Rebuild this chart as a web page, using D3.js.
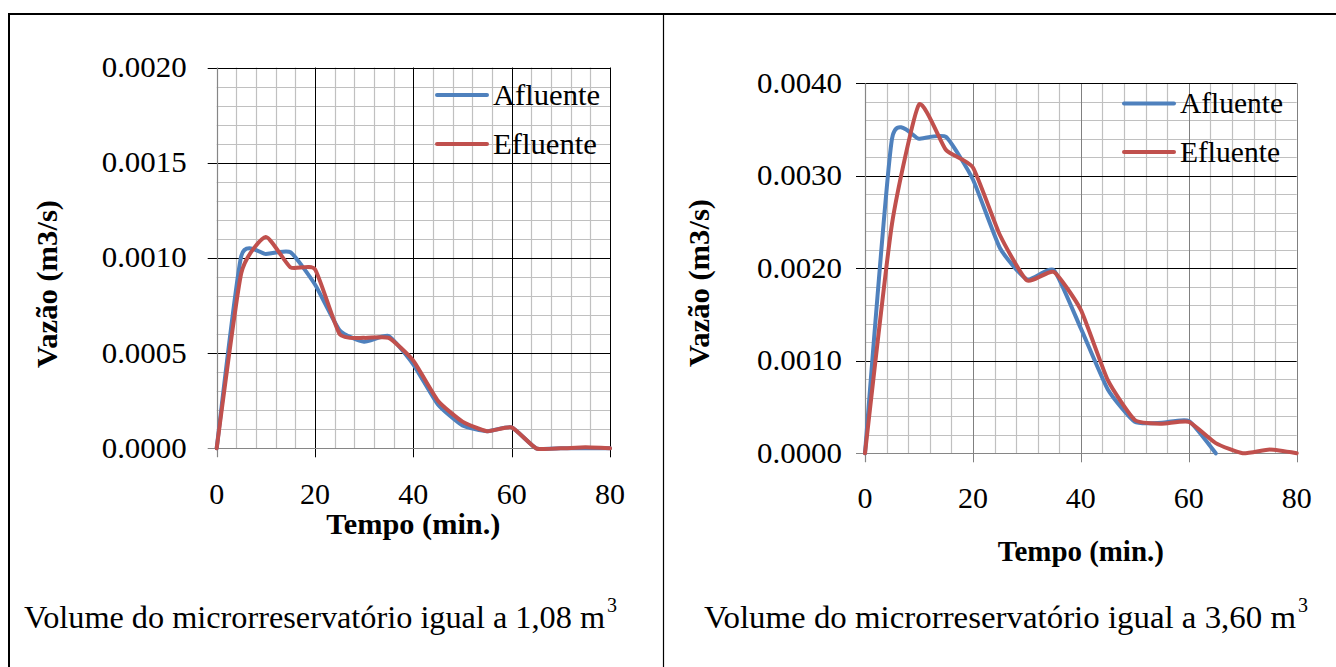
<!DOCTYPE html>
<html lang="pt">
<head>
  <meta charset="UTF-8">
  <title>Vazão afluente e efluente</title>
  <style>
    html, body { margin: 0; padding: 0; width: 100%; height: 100%; overflow: hidden; background: #fff; }
    svg { display: block; }
  </style>
</head>
<body>
  <svg id="chart" width="1336" height="667"></svg>

  <script src="https://d3js.org/d3.v7.min.js"></script>
  <script>
    // --- dados ---
    const minutos = [0, 5, 10, 15, 20, 25, 30, 35, 40, 45, 50, 55, 60, 65, 70, 75, 80];

    // volume 1,08 m3
    const afluente1 = [0, 0.00101, 0.00102, 0.00103, 0.00086, 0.00062, 0.00056, 0.00059, 0.00044, 0.00023, 0.00012, 0.00009, 0.00011, 0.0, 0.0, 0.0, 0.0];
    const efluente1 = [0, 0.00092, 0.00111, 0.00095, 0.00094, 0.00060, 0.00058, 0.00058, 0.00046, 0.00025, 0.00014, 0.00009, 0.00011, 0.0, 0.0, 0.000005, 0.0];

    // volume 3,60 m3 (afluente termina em 65 min)
    const afluente2 = [0, 0.00340, 0.00340, 0.00342, 0.00296, 0.00222, 0.00188, 0.00198, 0.00135, 0.00069, 0.00034, 0.00033, 0.00035, 0.0];
    const efluente2 = [0, 0.00248, 0.00377, 0.00328, 0.00309, 0.00236, 0.00187, 0.00196, 0.00155, 0.00079, 0.00036, 0.00032, 0.00034, 0.00011, 0.0, 0.00004, 0.0];

    const xTicks = [0, 20, 40, 60, 80];
    const yTicks1 = [0, 0.0005, 0.0010, 0.0015, 0.0020];
    const yTicks2 = [0, 0.0010, 0.0020, 0.0030, 0.0040];
    const seriesNames = ["Afluente", "Efluente"];
    const seriesColors = ["#4F81BD", "#C0504D"];
    const captions = ["Volume do microrreservatório igual a 1,08 m", "Volume do microrreservatório igual a 3,60 m"];

    const FONT = "Liberation Serif";
    const svg = d3.select("#chart");

    // moldura da tabela
    svg.append("line").attr("x1", 9).attr("x2", 1336).attr("y1", 14).attr("y2", 14)
      .attr("stroke", "#000").attr("stroke-width", 2);
    svg.append("line").attr("x1", 9).attr("x2", 9).attr("y1", 13).attr("y2", 667)
      .attr("stroke", "#000").attr("stroke-width", 2);
    svg.append("line").attr("x1", 663.5).attr("x2", 663.5).attr("y1", 14).attr("y2", 667)
      .attr("stroke", "#000").attr("stroke-width", 1.2);

    const crisp = v => Math.round(v) + 0.5;

    function fit(sel, w) {
      return sel.attr("textLength", w).attr("lengthAdjust", "spacingAndGlyphs");
    }

    function drawChart(cfg) {
      const x = d3.scaleLinear().domain([0, 80]).range([cfg.left, cfg.right]);
      const y = d3.scaleLinear().domain([0, cfg.yMax]).range([cfg.bottom, cfg.top]);
      const g = svg.append("g");

      // grade secundária
      const xMinor = d3.range(0, 81, 4).filter(v => xTicks.indexOf(v) < 0);
      const yMinor = d3.range(0, cfg.yMax + cfg.yMinor / 2, cfg.yMinor)
        .filter(v => !cfg.yTicks.some(t => Math.abs(t - v) < 1e-9));
      g.selectAll(".vmin").data(xMinor).join("line")
        .attr("x1", d => crisp(x(d))).attr("x2", d => crisp(x(d)))
        .attr("y1", cfg.top).attr("y2", cfg.bottom)
        .attr("stroke", "#c0c0c0").attr("stroke-width", 1.2);
      g.selectAll(".hmin").data(yMinor).join("line")
        .attr("x1", cfg.left).attr("x2", cfg.right)
        .attr("y1", d => crisp(y(d))).attr("y2", d => crisp(y(d)))
        .attr("stroke", "#c0c0c0").attr("stroke-width", 1.2);

      // grade principal (com marcas externas)
      g.selectAll(".vmaj").data(xTicks.slice(1)).join("line")
        .attr("x1", d => crisp(x(d))).attr("x2", d => crisp(x(d)))
        .attr("y1", cfg.top).attr("y2", cfg.bottom + 9)
        .attr("stroke", cfg.vMajorColor).attr("stroke-width", 1);
      g.selectAll(".hmaj").data(cfg.yTicks.slice(1)).join("line")
        .attr("x1", cfg.left - 9).attr("x2", cfg.right)
        .attr("y1", d => crisp(y(d))).attr("y2", d => crisp(y(d)))
        .attr("stroke", "#000").attr("stroke-width", 1);

      // eixos
      g.append("line").attr("x1", crisp(cfg.left)).attr("x2", crisp(cfg.left))
        .attr("y1", cfg.top).attr("y2", cfg.bottom + 9)
        .attr("stroke", "#868686").attr("stroke-width", 1.2);
      g.append("line").attr("x1", cfg.left - 9).attr("x2", cfg.right)
        .attr("y1", crisp(cfg.bottom)).attr("y2", crisp(cfg.bottom))
        .attr("stroke", "#868686").attr("stroke-width", 1.2);

      // rótulos dos eixos
      const fmt = d3.format(".4f");
      g.selectAll(".ylab").data(cfg.yTicks).join("text")
        .attr("x", cfg.left - cfg.yLabelGap).attr("y", d => y(d) + 9.5)
        .attr("text-anchor", "end").attr("font-family", FONT).attr("font-size", 30)
        .attr("fill", "#000").text(d => fmt(d))
        .call(fit, 85);
      g.selectAll(".xlab").data(xTicks).join("text")
        .attr("x", d => x(d)).attr("y", cfg.bottom + cfg.xLabelDy)
        .attr("text-anchor", "middle").attr("font-family", FONT).attr("font-size", 30)
        .attr("fill", "#000").text(d => d);

      // títulos
      g.append("text")
        .attr("transform", `translate(${cfg.yTitleX},${cfg.yTitleY}) rotate(-90)`)
        .attr("text-anchor", "middle").attr("font-family", FONT).attr("font-weight", "bold")
        .attr("font-size", 30).text("Vazão (m3/s)")
        .call(fit, 168);
      g.append("text")
        .attr("x", x(40)).attr("y", cfg.xTitleY)
        .attr("text-anchor", "middle").attr("font-family", FONT).attr("font-weight", "bold")
        .attr("font-size", 29).text("Tempo (min.)")
        .call(fit, cfg.xTitleW);

      // curvas suavizadas
      const line = d3.line()
        .x((d, i) => x(minutos[i]))
        .y(d => y(d))
        .curve(d3.curveCardinal.tension(0.5));
      [cfg.afl, cfg.efl].forEach((vals, k) => {
        g.append("path").datum(vals)
          .attr("d", line)
          .attr("fill", "none")
          .attr("stroke", seriesColors[k])
          .attr("stroke-width", 4)
          .attr("stroke-linejoin", "round")
          .attr("stroke-linecap", "round");
      });

      // legenda
      seriesNames.forEach((name, k) => {
        const ly = cfg.legendY[k];
        g.append("line").attr("x1", cfg.legendX).attr("x2", cfg.legendX + 50)
          .attr("y1", ly).attr("y2", ly)
          .attr("stroke", seriesColors[k]).attr("stroke-width", 4).attr("stroke-linecap", "round");
        g.append("text").attr("x", cfg.legendX + 56).attr("y", ly + 9.5)
          .attr("font-family", FONT).attr("font-size", 30).attr("fill", "#000")
          .text(name).call(fit, cfg.legendW[k]);
      });

      // legenda da figura
      g.append("text").attr("x", cfg.capX).attr("y", 628)
        .attr("font-family", FONT).attr("font-size", 32).attr("fill", "#000")
        .text(cfg.caption).call(fit, cfg.capW);
      g.append("text").attr("x", cfg.capX + cfg.capW + 2).attr("y", 612)
        .attr("font-family", FONT).attr("font-size", 20).attr("fill", "#000")
        .text("3");
    }

    drawChart({
      left: 216.7, right: 610, top: 67.5, bottom: 448.3,
      yMax: 0.0020, yMinor: 0.0001, yTicks: yTicks1,
      vMajorColor: "#000", yLabelGap: 30, xLabelDy: 56,
      yTitleX: 57, yTitleY: 284, xTitleY: 534, xTitleW: 174,
      afl: afluente1, efl: efluente1,
      legendX: 437, legendY: [95, 144], legendW: [107, 104],
      caption: captions[0], capX: 24, capW: 581
    });

    drawChart({
      left: 865, right: 1296.7, top: 83.3, bottom: 453.3,
      yMax: 0.0040, yMinor: 0.0002, yTicks: yTicks2,
      vMajorColor: "#808080", yLabelGap: 23, xLabelDy: 55,
      yTitleX: 709, yTitleY: 283, xTitleY: 561, xTitleW: 166,
      afl: afluente2, efl: efluente2,
      legendX: 1124, legendY: [103.5, 152], legendW: [103, 100],
      caption: captions[1], capX: 704, capW: 592
    });
  </script>
</body>
</html>
